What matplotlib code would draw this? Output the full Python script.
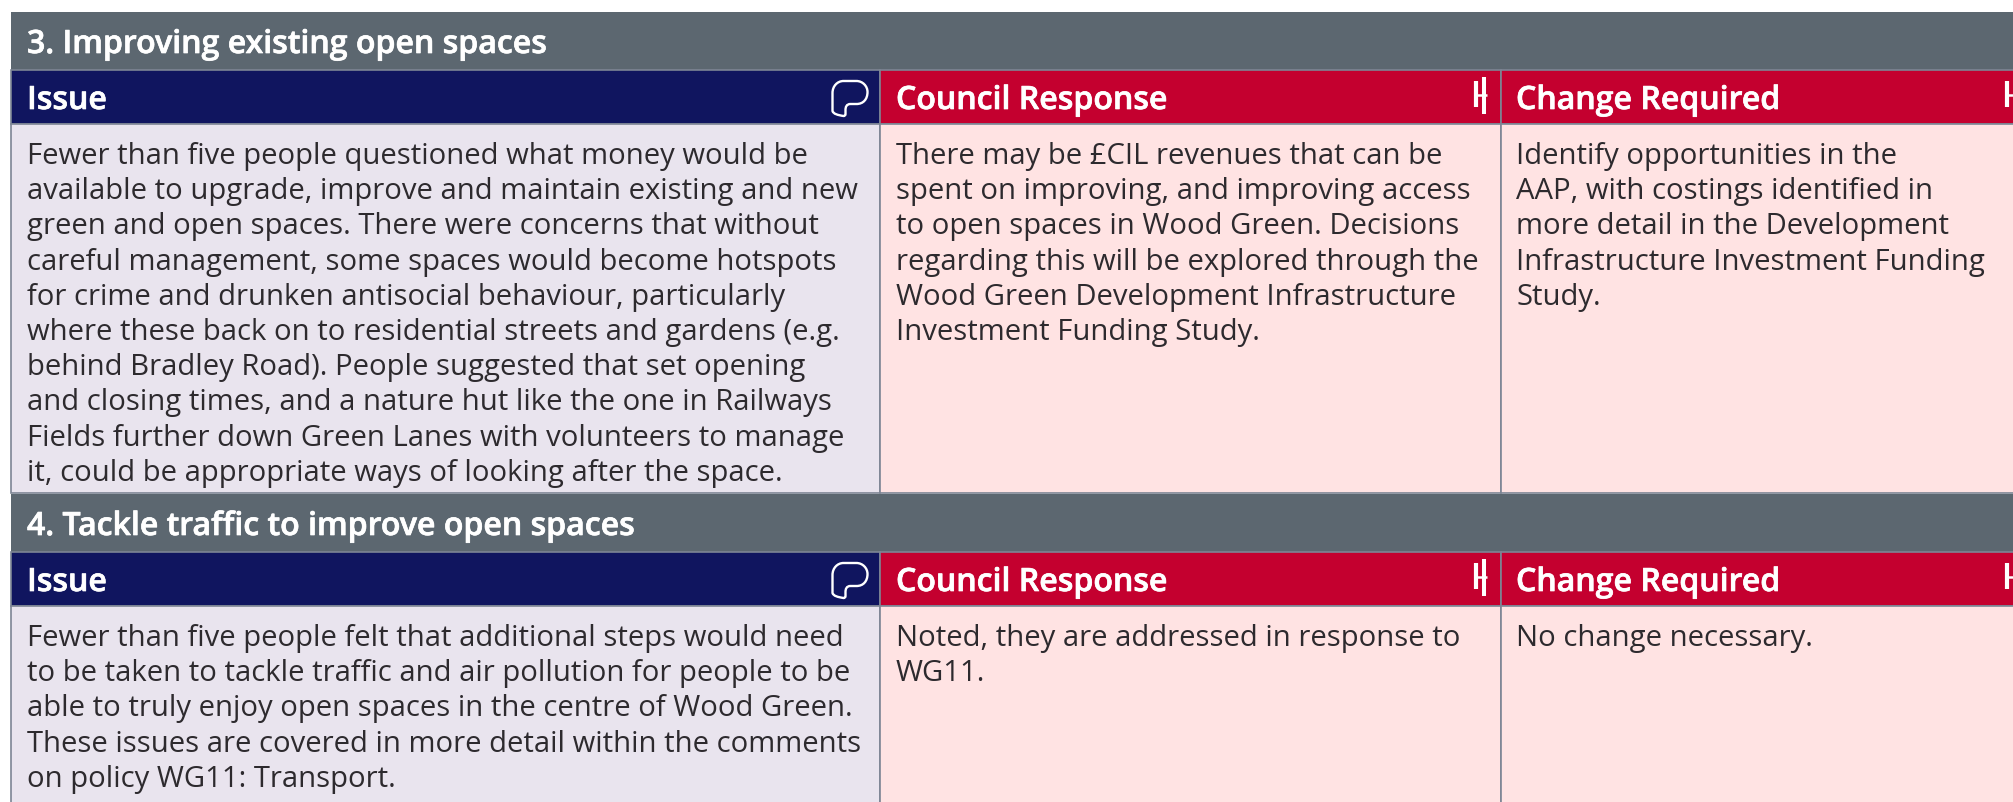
import matplotlib
matplotlib.use("Agg")
import matplotlib.pyplot as plt
import matplotlib.patheffects as pe
from matplotlib.patches import PathPatch, Rectangle
from matplotlib.path import Path

plt.rcParams['font.family'] = ['Open Sans', 'DejaVu Sans']

# table text, one list per cell, wrapped as in the reference
section_titles = ["3. Improving existing open spaces", "4. Tackle traffic to improve open spaces"]
column_titles = ["Issue", "Council Response", "Change Required"]

issue_3 = ["Fewer than five people questioned what money would be",
           "available to upgrade, improve and maintain existing and new",
           "green and open spaces. There were concerns that without",
           "careful management, some spaces would become hotspots",
           "for crime and drunken antisocial behaviour, particularly",
           "where these back on to residential streets and gardens (e.g.",
           "behind Bradley Road). People suggested that set opening",
           "and closing times, and a nature hut like the one in Railways",
           "Fields further down Green Lanes with volunteers to manage",
           "it, could be appropriate ways of looking after the space."]
response_3 = ["There may be £CIL revenues that can be",
              "spent on improving, and improving access",
              "to open spaces in Wood Green. Decisions",
              "regarding this will be explored through the",
              "Wood Green Development Infrastructure",
              "Investment Funding Study."]
change_3 = ["Identify opportunities in the",
            "AAP, with costings identified in",
            "more detail in the Development",
            "Infrastructure Investment Funding",
            "Study."]

issue_4 = ["Fewer than five people felt that additional steps would need",
           "to be taken to tackle traffic and air pollution for people to be",
           "able to truly enjoy open spaces in the centre of Wood Green.",
           "These issues are covered in more detail within the comments",
           "on policy WG11: Transport."]
response_4 = ["Noted, they are addressed in response to", "WG11."]
change_4 = ["No change necessary."]

GREY = "#5c6770"
NAVY = "#10155f"
RED = "#c4002f"
LILAC = "#e9e4ee"
PINK = "#ffe3e3"
EDGE = "#7d8594"
INK = "#2d2a2e"

W, H = 2013, 802
fig = plt.figure(figsize=(W / 100, H / 100), dpi=100)
ax = fig.add_axes([0, 0, 1, 1])
ax.set_xlim(0, W)
ax.set_ylim(H, 0)
ax.axis("off")

col_edges = [11, 880, 1501, 2020]
col_text = [27, 896, 1516]
BODY_SIZE = 21.1
HEAD_SIZE = 23.1
LEADING = 35.2
BOLDER = [pe.withStroke(linewidth=0.5, foreground="white")]

# speech bubble outline, in a 36 x 36 box
BUBBLE = [(12, 1), (25, 1), (31, 1), (36, 6), (36, 12), (36, 19), (32, 24), (25, 24),
          (19, 24), (15, 24), (14, 27), (14, 30), (14, 34), (14, 36), (12, 36),
          (6, 35), (2, 34), (1, 31), (1, 26), (1, 13), (1, 6), (6, 1), (12, 1), (12, 1)]
BUBBLE_CODES = [Path.MOVETO, Path.LINETO, Path.CURVE4, Path.CURVE4, Path.CURVE4,
                Path.CURVE4, Path.CURVE4, Path.CURVE4, Path.LINETO,
                Path.CURVE4, Path.CURVE4, Path.CURVE4, Path.LINETO, Path.CURVE3, Path.CURVE3,
                Path.CURVE4, Path.CURVE4, Path.CURVE4, Path.LINETO,
                Path.LINETO, Path.CURVE4, Path.CURVE4, Path.CURVE4, Path.CLOSEPOLY]


def draw_section(top, title, cells):
    head_bot = top + 58
    sub_bot = head_bot + 54
    body_bot = top + 481
    ax.add_patch(Rectangle((11, top), W, 58, fc=GREY, ec="none"))
    ax.text(27, top + 41, title, color="white", fontsize=HEAD_SIZE, fontweight=600, va="baseline",
            path_effects=BOLDER)

    for i in range(3):
        left, right = col_edges[i], col_edges[i + 1]
        ax.add_patch(Rectangle((left, head_bot), right - left, sub_bot - head_bot,
                               fc=NAVY if i == 0 else RED, ec=EDGE, lw=1.2))
        ax.add_patch(Rectangle((left, sub_bot), right - left, body_bot - sub_bot,
                               fc=LILAC if i == 0 else PINK, ec=EDGE, lw=1.2))
        ax.text(col_text[i], head_bot + 39, column_titles[i], color="white",
                fontsize=HEAD_SIZE, fontweight=600, va="baseline", path_effects=BOLDER)
        for n, line in enumerate(cells[i]):
            ax.text(col_text[i], sub_bot + 40 + n * LEADING, line, color=INK,
                    fontsize=BODY_SIZE, va="baseline")

    # icons at the right of each header cell
    off = top - 12
    ax.add_patch(PathPatch(Path([(831.5 + a, off + 80 + b) for a, b in BUBBLE], BUBBLE_CODES),
                           fc="none", ec="white", lw=1.7))
    for x in (1474.3, 2005):
        ax.plot([x + 2, x + 2], [off + 81, off + 107], color="white", lw=3.0, solid_capstyle="butt")
        ax.plot([x + 9.8, x + 9.8], [off + 77, off + 114], color="white", lw=2.9, solid_capstyle="butt")
        ax.plot([x + 2, x + 13], [off + 95, off + 95], color="white", lw=1.8, solid_capstyle="butt")


draw_section(12, section_titles[0], [issue_3, response_3, change_3])
draw_section(494, section_titles[1], [issue_4, response_4, change_4])

fig.savefig("out.png", dpi=100, facecolor="white")
